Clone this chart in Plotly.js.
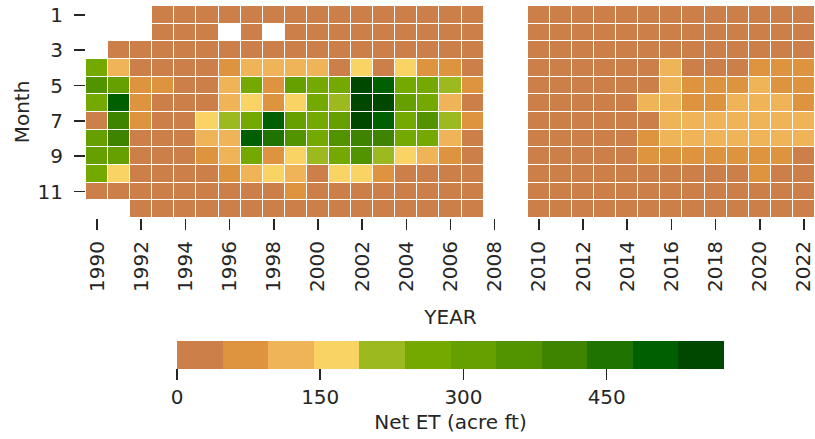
<!DOCTYPE html>
<html>
<head>
<meta charset="utf-8">
<script src="https://cdn.plot.ly/plotly-3.0.1.min.js"></script>
<style>
  html, body { margin: 0; padding: 0; background: #ffffff; }
  #chart { width: 815px; height: 439px; }
</style>
</head>
<body>
<div id="chart"></div>
<script>
// Years on the x axis (2008 and 2009 have no records)
const years = [1990,1991,1992,1993,1994,1995,1996,1997,1998,1999,2000,2001,2002,2003,2004,2005,2006,2007,2008,2009,2010,2011,2012,2013,2014,2015,2016,2017,2018,2019,2020,2021,2022];
const months = [1,2,3,4,5,6,7,8,9,10,11,12];

// Monthly net ET (acre ft), one array per month, one value per year
const jan = [null,null,null, 12.4,9.8,14.1,11.6,13.0,10.2,15.3,12.7,9.5,16.2,13.8,11.1,10.4,12.9,8.7, null,null, 9.3,7.6,8.9,10.5,9.1,11.8,12.6,10.9,13.4,11.2,12.8,10.3,9.7];
const feb = [null,null,null, 18.5,15.2,20.3,null,19.1,null,21.4,17.8,16.3,22.9,19.6,18.2,15.9,17.4,14.8, null,null, 13.6,12.1,14.9,15.7,13.2,17.5,18.8,16.4,19.3,17.1,18.6,16.2,15.4];
const mar = [null,28.6,31.2, 30.4,27.9,33.5,35.8,32.1,29.7,36.4,34.2,30.8,38.6,33.9,35.1,31.7,34.5,29.3, null,null, 26.4,24.8,27.5,28.9,25.6,31.4,33.8,30.2,32.7,31.9,34.6,32.3,30.8];
const apr = [262.4,118.7,41.3, 38.9,35.6,44.2,71.8,112.5,127.3,121.9,109.6,45.1,168.4,43.7,161.2,84.6,78.3,42.8, null,null, 36.2,33.9,38.4,40.1,37.5,44.6,103.8,46.2,45.3,46.8,64.7,76.2,71.5];
const may = [357.2,309.8,68.4, 59.7,44.1,46.3,124.6,268.3,88.9,302.4,259.5,276.8,548.6,507.3,271.4,254.7,219.6,79.2, null,null, 42.5,40.8,43.9,45.2,41.7,46.9,131.5,82.7,91.3,86.4,116.8,89.6,93.2];
const jun = [271.5,498.2,76.3, 44.8,43.2,45.9,132.4,174.6,81.7,179.3,266.2,221.8,572.8,561.4,318.7,279.4,128.9,46.5, null,null, 45.3,43.6,46.1,46.9,44.2,105.7,129.3,88.4,94.6,121.7,126.2,118.5,91.8];
const jul = [41.2,412.6,84.7, 46.1,44.9,172.3,226.8,281.4,512.9,323.5,264.1,306.8,553.7,489.6,283.2,362.4,229.4,86.1, null,null, 44.7,42.3,45.8,46.4,45.1,46.7,124.8,131.6,127.9,134.2,129.7,136.5,132.8];
const aug = [315.6,398.4,45.2, 43.8,42.6,117.9,124.3,506.1,458.7,349.2,262.8,366.5,404.3,392.8,270.6,257.3,112.6,45.9, null,null, 42.9,41.4,44.6,45.3,43.1,87.2,128.4,121.5,133.7,127.2,135.9,130.4,126.1];
const sep = [298.3,304.7,38.6, 36.9,35.4,69.8,109.2,277.5,74.6,164.9,203.7,252.6,341.8,218.4,158.3,121.4,80.5,39.7, null,null, 35.8,34.2,37.6,38.9,36.3,73.4,81.6,77.9,84.2,79.5,86.3,75.8,44.9];
const oct = [249.7,163.8,31.4, 29.6,27.8,33.2,58.4,106.3,154.9,113.8,40.2,176.5,149.7,66.2,38.5,34.9,32.6,30.1, null,null, 27.4,25.9,28.6,29.8,27.1,33.7,35.2,31.9,34.8,36.4,52.3,33.6,31.2];
const nov = [21.3,19.8,18.6, 17.9,16.4,20.2,22.7,24.1,21.5,55.8,19.3,23.6,25.4,22.1,20.8,18.7,19.9,17.2, null,null, 16.1,14.8,16.9,17.6,15.4,19.7,21.2,18.8,20.4,19.1,21.8,19.5,18.3];
const dec = [null,null,13.2, 12.6,11.4,14.3,15.8,14.9,13.1,16.4,14.2,12.8,15.6,13.9,12.7,11.9,13.5,11.2, null,null, 10.8,9.6,11.3,12.1,10.4,13.2,14.7,12.5,13.8,12.9,14.1,12.6,11.7];

// Colour bar range and tick labels
const etMax = 572.8;
const cbTicks = [0, 150, 300, 450];
const yearTicks = [1990,1992,1994,1996,1998,2000,2002,2004,2006,2008,2010,2012,2014,2016,2018,2020,2022];
const monthTicks = [1,3,5,7,9,11];

// Twelve-step brown-to-green palette
const palette = ['#cd7f4a','#de943f','#f0b458','#fad365','#9cb91f','#74aa00',
                 '#65a000','#519400','#3e8400','#1f7300','#005f00','#004800'];

const colorscale = [];
palette.forEach((c, i) => {
  colorscale.push([i / palette.length, c]);
  colorscale.push([(i + 1) / palette.length, c]);
});

const z = [jan, feb, mar, apr, may, jun, jul, aug, sep, oct, nov, dec];
const ink = '#262626';
const font = { family: 'DejaVu Sans, sans-serif', size: 20, color: ink };

const trace = {
  type: 'heatmap',
  x: years,
  y: months,
  z: z,
  zmin: 0,
  zmax: etMax,
  colorscale: colorscale,
  xgap: 1,
  ygap: 1,
  hoverongaps: false,
  colorbar: {
    orientation: 'h',
    x: 0.5,
    xanchor: 'center',
    y: -0.58,
    yanchor: 'top',
    len: 0.75,
    lenmode: 'fraction',
    thickness: 28,
    outlinewidth: 0,
    xpad: 0,
    ypad: 0,
    tickvals: cbTicks,
    ticktext: cbTicks.map(String),
    ticks: 'outside',
    ticklen: 11,
    tickwidth: 1.5,
    tickcolor: ink,
    tickfont: font,
    title: { text: 'Net ET (acre ft)', side: 'bottom', font: font }
  }
};

const layout = {
  width: 815,
  height: 439,
  margin: { l: 86, r: 0, t: 6, b: 221 },
  paper_bgcolor: '#ffffff',
  plot_bgcolor: '#ffffff',
  font: font,
  xaxis: {
    range: [1989.5, 2022.5],
    tickvals: yearTicks,
    ticktext: yearTicks.map(String),
    tickangle: -90,
    ticks: 'outside',
    ticklen: 11,
    tickwidth: 1.5,
    tickcolor: ink,
    tickfont: font,
    ticklabelstandoff: 3,
    ticklabeloverflow: 'allow',
    showgrid: false,
    zeroline: false,
    showline: false,
    title: { text: 'YEAR', font: font, standoff: 19 }
  },
  yaxis: {
    range: [12.5, 0.5],
    tickvals: monthTicks,
    ticktext: monthTicks.map(String),
    ticks: 'outside',
    ticklen: 11,
    tickwidth: 1.5,
    tickcolor: ink,
    tickfont: font,
    ticklabelstandoff: 7,
    showgrid: false,
    zeroline: false,
    showline: false,
    title: { text: 'Month', font: font, standoff: 2 }
  }
};

Plotly.newPlot('chart', [trace], layout, { staticPlot: true, displayModeBar: false });
</script>
</body>
</html>
